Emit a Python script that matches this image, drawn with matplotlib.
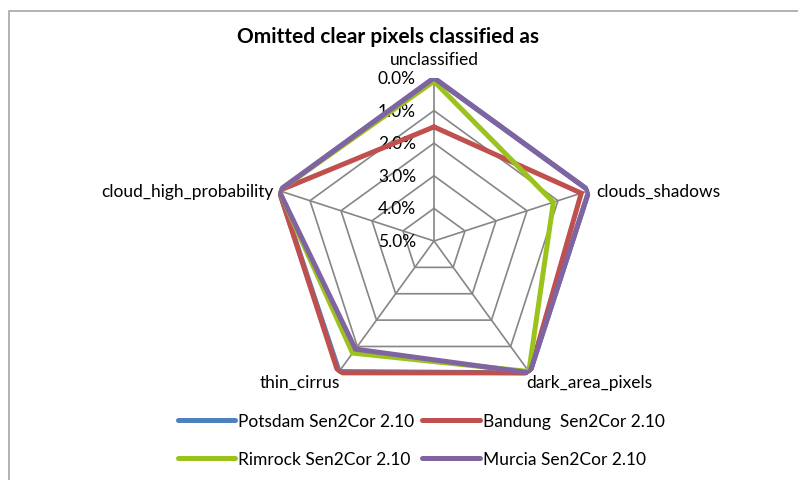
import numpy as np
import matplotlib.pyplot as plt
from matplotlib.patches import Rectangle
import matplotlib.transforms as mtransforms

plt.rcParams['font.family'] = ['Lato', 'DejaVu Sans']

# Data (omission rate in %)
categories = ['unclassified', 'clouds_shadows', 'dark_area_pixels',
              'thin_cirrus', 'cloud_high_probability']
potsdam = [0.0, 0.0, 0.0, 0.05, 0.0]
bandung = [1.5, 0.25, 0.0, 0.0, 0.0]
rimrock = [0.1, 1.15, 0.05, 0.75, 0.0]
murcia = [0.0, 0.0, 0.0, 0.9, 0.0]
ticks = [0, 1, 2, 3, 4, 5]
tick_labels = ['0.0%', '1.0%', '2.0%', '3.0%', '4.0%', '5.0%']

series = [
    ('Potsdam Sen2Cor 2.10', potsdam, '#4F81BD'),
    ('Bandung  Sen2Cor 2.10', bandung, '#C0504D'),
    ('Rimrock Sen2Cor 2.10', rimrock, '#9BC31B'),
    ('Murcia Sen2Cor 2.10', murcia, '#8064A2'),
]

n = len(categories)
theta = np.arange(n) * 2 * np.pi / n
theta_c = np.append(theta, theta[0])
fs = 12.5

fig = plt.figure(figsize=(7.98, 4.81), dpi=100)
ax = fig.add_axes([0.3396, 0.158, 0.4085, 0.6778], projection='polar')
ax.set_theta_offset(np.pi / 2)
ax.set_theta_direction(-1)
ax.set_ylim(5, 0)  # 0% on the outside, 5% in the centre
ax.grid(False)
ax.spines['polar'].set_visible(False)
ax.set_xticks([])
ax.set_yticks([])
ax.patch.set_alpha(0)

# pentagon grid
for t in ticks:
    ax.plot(theta_c, [t] * (n + 1), color='#868686', lw=1.2, zorder=1)
for th in theta:
    ax.plot([th, th], [0, 5], color='#868686', lw=1.2, zorder=1)

# tick labels on top spoke
off = mtransforms.offset_copy(ax.transData, fig=fig, x=-18, y=0, units='dots')
for t, lab in zip(ticks, tick_labels):
    ax.text(0, t, lab, transform=off, ha='right', va='center', fontsize=fs)

# category labels
lab_off = [(0, 19, 'center', 'center'), (7, 0, 'left', 'center'),
           (-4, -9, 'left', 'center'), (2, -9, 'right', 'center'),
           (-5, 0, 'right', 'center')]
for th, cat, (dx, dy, ha, va) in zip(theta, categories, lab_off):
    tr = mtransforms.offset_copy(ax.transData, fig=fig, x=dx, y=dy, units='dots')
    ax.text(th, 0, cat, transform=tr, ha=ha, va=va, fontsize=fs)

handles = {}
for name, vals, col in series:
    v = list(vals) + [vals[0]]
    ln, = ax.plot(theta_c, v, color=col, lw=3.6, solid_joinstyle='miter',
                  solid_capstyle='round', zorder=3, label=name)
    handles[name] = ln

order = ['Potsdam Sen2Cor 2.10', 'Rimrock Sen2Cor 2.10',
         'Bandung  Sen2Cor 2.10', 'Murcia Sen2Cor 2.10']
leg = fig.legend([handles[k] for k in order], order, ncol=2, frameon=False,
                 loc='center', bbox_to_anchor=(0.528, 0.083), fontsize=fs,
                 handlelength=3.3, handletextpad=0.2, columnspacing=0.45,
                 labelspacing=1.3)

fig.text(388 / 798, 1 - 37 / 481, 'Omitted clear pixels classified as',
         ha='center', va='center', fontsize=15, fontweight='bold')

# chart border
fig.patches.append(Rectangle((9 / 798, -0.1), 1.2, 1 - 12 / 481 + 0.1,
                             transform=fig.transFigure, fill=False,
                             edgecolor='#a6a6a6', lw=1.2))

fig.savefig('out.png', dpi=100)
